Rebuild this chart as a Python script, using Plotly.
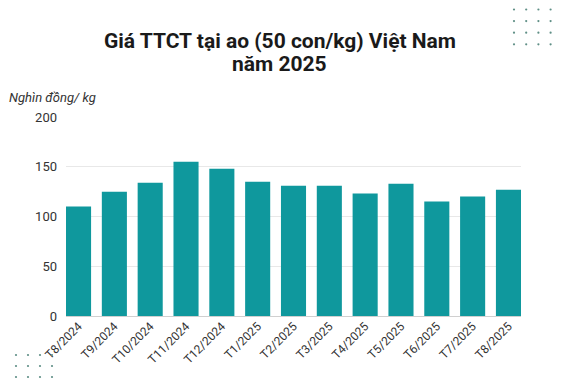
import plotly.graph_objects as go

categories = ["T8/2024", "T9/2024", "T10/2024", "T11/2024", "T12/2024", "T1/2025",
              "T2/2025", "T3/2025", "T4/2025", "T5/2025", "T6/2025", "T7/2025", "T8/2025"]
prices = [110, 125, 134, 155, 148, 135, 131, 131, 123, 133, 115, 120, 127]
y_ticks = [0, 50, 100, 150, 200]
title_lines = ["Giá TTCT tại ao (50 con/kg) Việt Nam", "năm 2025"]
y_unit = "Nghìn đồng/ kg"

W, H = 563, 381
L, R, T, B = 66, 42, 117, 65
PW, PH = W - L - R, H - T - B

BAR = "#0f989d"
DOT = "#5f8f86"

fig = go.Figure(go.Bar(
    x=categories, y=prices, marker=dict(color=BAR, line=dict(width=0)),
    hoverinfo="x+y",
))

def px_to_paper(px, py):
    return (px - L) / PW, (H - B - py) / PH

shapes = []
def dot_grid(x0, y0, nx, ny, dx, dy):
    for i in range(nx):
        for j in range(ny):
            cx, cy = px_to_paper(x0 + i * dx, y0 + j * dy)
            rx, ry = 1.1 / PW, 1.1 / PH
            shapes.append(dict(type="circle", xref="paper", yref="paper",
                               x0=cx - rx, x1=cx + rx, y0=cy - ry, y1=cy + ry,
                               fillcolor=DOT, line=dict(width=0), layer="above"))

dot_grid(514, 9.5, 4, 4, 12.2, 11.6)
dot_grid(16, 355, 4, 3, 12, 11)

annotations = []
for text, cy in zip(title_lines, [41, 64]):
    tx, ty = px_to_paper(W / 2 - 2, cy)
    annotations.append(dict(
        text="<b>" + text + "</b>", xref="paper", yref="paper",
        x=tx, y=ty, xanchor="center", yanchor="middle", showarrow=False,
        font=dict(family="Roboto", size=21, color="#1a1a1a"),
    ))

ax, ay = px_to_paper(7, 97)
annotations.append(dict(
    text="<i>" + y_unit + "</i>", xref="paper", yref="paper",
    x=ax, y=ay, xanchor="left", yanchor="middle", showarrow=False,
    font=dict(size=13, color="#333333"),
))

fig.update_layout(
    width=W, height=H,
    margin=dict(l=L, r=R, t=T, b=B, pad=0),
    paper_bgcolor="white", plot_bgcolor="white",
    bargap=0.3,
    showlegend=False,
    font=dict(family="Roboto, Arial, sans-serif", color="#333333", size=13),
    xaxis=dict(
        type="category", range=[-0.35, len(categories) - 0.65],
        tickangle=-45, tickfont=dict(size=12, color="#333333"),
        showgrid=False, showline=False, ticks="", zeroline=False,
    ),
    yaxis=dict(
        range=[0, 200], tickvals=y_ticks, ticktext=[str(v) for v in y_ticks],
        showgrid=True, gridcolor="#e8e8e8", gridwidth=1,
        zeroline=True, zerolinecolor="#d0d0d0", zerolinewidth=1,
        showline=False, ticks="", ticklabelstandoff=8,
        tickfont=dict(size=13, color="#333333"),
    ),
    annotations=annotations,
    shapes=shapes,
)

fig.write_html("out.html", config={"displayModeBar": False},
               post_script="document.body.style.margin='0';document.body.style.overflow='hidden';")
